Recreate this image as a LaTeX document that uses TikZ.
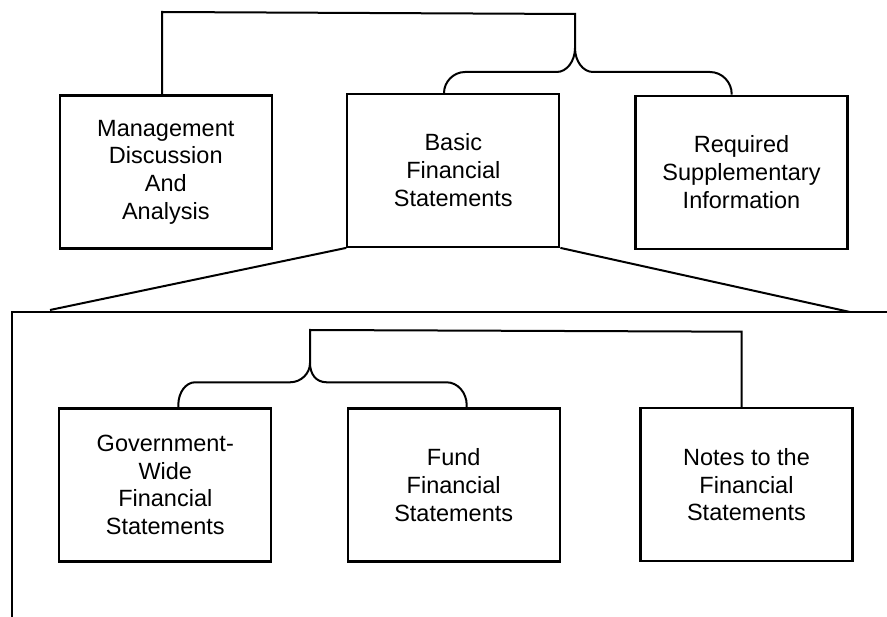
\documentclass[tikz,border=0pt]{standalone}
\usepackage{fontspec}
\setmainfont{Liberation Sans}
\begin{document}
\begin{tikzpicture}[x=1pt,y=-1pt,
  box/.style={draw, line width=2.2pt, minimum width=212pt, minimum height=153pt,
    inner sep=0pt, align=center, font=\fontsize{23.5}{27.7}\selectfont},
  conn/.style={line width=2pt}]
\useasboundingbox (0,0) rectangle (887,617);
% boxes
\node[box] (mda)   at (165.8,172)   {Management\\Discussion\\And\\Analysis};
\node[box] (bfs)   at (453.3,170.3) {Basic\\Financial\\Statements};
\node[box] (rsi)   at (741.5,172.3) {Required\\Supplementary\\Information};
\node[box] (gw)    at (165.3,485)   {Government-\\Wide\\Financial\\Statements};
\node[box] (fund)  at (453.7,485)   {Fund\\Financial\\Statements};
\node[box] (notes) at (746.5,484.7) {Notes to the\\Financial\\Statements};
% helper coordinates
\coordinate (topL) at (162,12);
\coordinate (topR) at (575,14);
\coordinate (cuspA) at (575,48);
\coordinate (xA) at (444,0);
\coordinate (xB) at (731.7,0);
\coordinate (panelTL) at (12,312);
\coordinate (panelTR) at (887,312);
\coordinate (panelBL) at (12,617);
\coordinate (slantL) at (50,310);
\coordinate (slantR) at (850,312);
\coordinate (inL) at (310,330);
\coordinate (inR) at (741.7,331.7);
\coordinate (cuspB) at (310,363);
\coordinate (xC) at (178.3,0);
\coordinate (xD) at (466.7,0);
% top bracket
\draw[conn] (mda.north -| topL) -- (topL) -- (topR) -- (cuspA);
\draw[conn] (cuspA) .. controls (575,61.2) and (566.8,72) .. (556.7,72) -- (465,72)
  .. controls (453.4,72) and (444,81.9) .. (444,93) -- (bfs.north -| xA);
\draw[conn] (cuspA) .. controls (575,61.2) and (583,72) .. (593,72) -- (710,72)
  .. controls (721.9,72) and (731.7,82) .. (731.7,94) -- (rsi.north -| xB);
% expansion lines and panel
\draw[conn] (bfs.south west) -- (slantL);
\draw[conn] (bfs.south east) -- (slantR);
\draw[conn] (panelBL) -- (panelTL) -- (panelTR);
% lower bracket
\draw[conn] (cuspB) -- (inL) -- (inR) -- (notes.north -| inR);
\draw[conn] (cuspB) .. controls (310,373.6) and (301,382.3) .. (290,382.3) -- (195,382.3)
  .. controls (185.8,382.3) and (178.3,392.5) .. (178.3,405) -- (gw.north -| xC);
\draw[conn] (cuspB) .. controls (310,373.6) and (315.6,382.3) .. (326.7,382.3) -- (446.7,382.3)
  .. controls (457.7,382.3) and (466.7,392.8) .. (466.7,405) -- (fund.north -| xD);
\end{tikzpicture}
\end{document}
